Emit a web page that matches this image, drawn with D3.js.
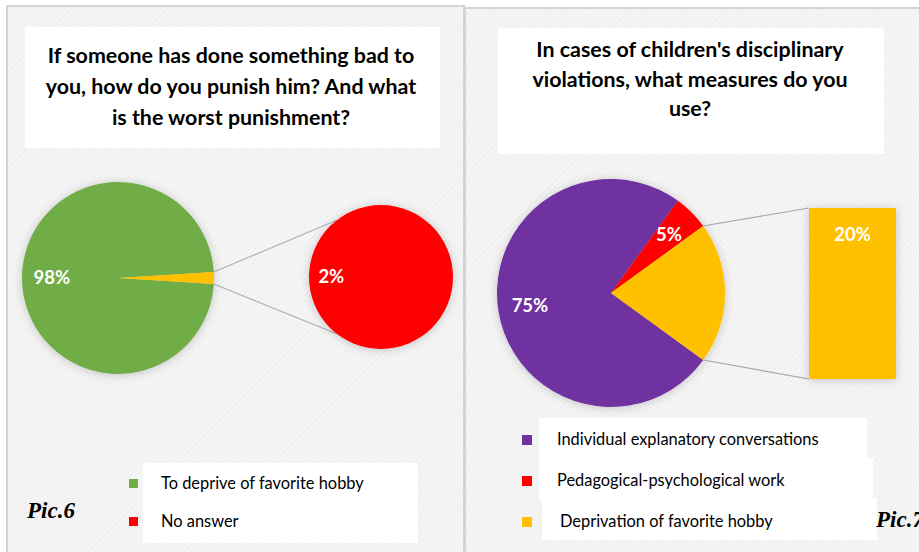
<!DOCTYPE html>
<html>
<head>
<meta charset="utf-8">
<script src="https://cdn.jsdelivr.net/npm/d3@7/dist/d3.min.js"></script>
<style>
  html, body { margin: 0; padding: 0; background: #ffffff; }
  svg { display: block; }
</style>
</head>
<body>
<svg id="chart" width="919" height="552"></svg>
<script>
// ---- Data ----
const leftTitle = ["If someone has done something bad to", "you, how do you punish him? And what", "is the worst punishment?"];
const leftCategories = ["To deprive of favorite hobby", "No answer"];
const leftValues = [98, 2];
const leftColors = ["#70ad47", "#ff0000"];
const leftSplitColor = "#ffc000";   // colour of the split-off slice inside the main pie
const leftCaption = "Pic.6";

const rightTitle = ["In cases of children's disciplinary", "violations, what measures do you", "use?"];
const rightCategories = ["Individual explanatory conversations", "Pedagogical-psychological work", "Deprivation of favorite hobby"];
const rightValues = [75, 5, 20];
const rightColors = ["#7030a0", "#ff0000", "#ffc000"];
const rightCaption = "Pic.7";

const svg = d3.select("#chart");
const FONT = "Lato, 'Open Sans', sans-serif";
const defs = svg.append("defs");

// subtle diagonal texture for the panel backgrounds
const pat = defs.append("pattern").attr("id", "hatch").attr("patternUnits", "userSpaceOnUse")
  .attr("width", 4).attr("height", 4).attr("patternTransform", "rotate(45)");
pat.append("rect").attr("width", 4).attr("height", 4).attr("fill", "#f5f5f5");
pat.append("line").attr("x1", 0).attr("y1", 0).attr("x2", 0).attr("y2", 4)
  .attr("stroke", "#ececec").attr("stroke-width", 1.5);

// soft halo round the pies
const sh = defs.append("filter").attr("id", "halo").attr("x", "-30%").attr("y", "-30%").attr("width", "160%").attr("height", "160%");
sh.append("feDropShadow").attr("dx", 0).attr("dy", 1).attr("stdDeviation", 5)
  .attr("flood-color", "#000").attr("flood-opacity", 0.2);

// ---- Panels ----
svg.append("rect").attr("x", 7).attr("y", 6).attr("width", 457).attr("height", 560)
  .attr("fill", "url(#hatch)").attr("stroke", "#d3d3d3").attr("stroke-width", 2);
svg.append("rect").attr("x", 465).attr("y", 8).attr("width", 470).attr("height", 560)
  .attr("fill", "url(#hatch)").attr("stroke", "#d3d3d3").attr("stroke-width", 2);

function titleBox(x0, y0, w, h, lines, cx, baselines, size) {
  svg.append("rect").attr("x", x0).attr("y", y0).attr("width", w).attr("height", h).attr("fill", "#ffffff");
  svg.append("g").selectAll("text").data(lines).join("text")
    .attr("x", cx).attr("y", (d, i) => baselines[i])
    .attr("text-anchor", "middle")
    .attr("font-family", FONT).attr("font-weight", 700).attr("font-size", size)
    .attr("fill", "#000").text(d => d);
}
titleBox(25, 27, 415, 121, leftTitle, 231, [63, 94, 125], 21.4);
titleBox(498, 28, 386, 126, rightTitle, 690, [57, 87, 116], 21.4);

function pctLabel(g, x, y, text) {
  g.append("text").attr("x", x).attr("y", y).attr("dy", "0.35em")
    .attr("text-anchor", "middle")
    .attr("font-family", FONT).attr("font-weight", 700).attr("font-size", 18.5)
    .attr("fill", "#ffffff").text(text);
}

const total = a => d3.sum(a);

// ---- Left chart: pie of pie ----
{
  const cx = 118, cy = 278, r = 96;
  const tot = total(leftValues);
  const last = leftValues[leftValues.length - 1];
  // split slice is centred on the right-hand side of the main pie
  const start = Math.PI / 2 + (last / tot) * Math.PI;
  const pie = d3.pie().sort(null).value(d => d).startAngle(start).endAngle(start + 2 * Math.PI);
  const arcs = pie(leftValues);
  const arc = d3.arc().innerRadius(0).outerRadius(r);
  const lab = d3.arc().innerRadius(r * 0.69).outerRadius(r * 0.69);

  const g = svg.append("g").attr("transform", `translate(${cx},${cy})`);
  g.append("g").attr("filter", "url(#halo)").selectAll("path").data(arcs).join("path")
    .attr("d", arc)
    .attr("fill", (d, i) => i === arcs.length - 1 ? leftSplitColor : leftColors[i]);
  pctLabel(g, lab.centroid(arcs[0])[0], lab.centroid(arcs[0])[1], leftValues[0] + "%");

  // secondary pie
  const sx = 381, sy = 277, sr = 72;
  const spie = d3.pie().sort(null).value(d => d).startAngle(Math.PI / 2).endAngle(Math.PI / 2 + 2 * Math.PI);
  const sarcs = spie([last]);
  const sarc = d3.arc().innerRadius(0).outerRadius(sr);
  const slab = d3.arc().innerRadius(sr * 0.69).outerRadius(sr * 0.69);

  // connector lines from the split slice to the secondary pie
  const sp = arcs[arcs.length - 1];
  const edge = a => [cx + r * Math.sin(a), cy - r * Math.cos(a)];
  const conA = 38 * Math.PI / 180;
  const sEdge = a => [sx + sr * Math.sin(a), sy - sr * Math.cos(a)];
  const lines = [[edge(sp.startAngle), sEdge(-conA)], [edge(sp.endAngle), sEdge(Math.PI + conA)]];
  svg.append("g").selectAll("line").data(lines).join("line")
    .attr("x1", d => d[0][0]).attr("y1", d => d[0][1])
    .attr("x2", d => d[1][0]).attr("y2", d => d[1][1])
    .attr("stroke", "#a9b0b8").attr("stroke-width", 1.2);

  const sg = svg.append("g").attr("transform", `translate(${sx},${sy})`);
  sg.append("g").attr("filter", "url(#halo)").selectAll("path").data(sarcs).join("path")
    .attr("d", sarc).attr("fill", leftColors[1]);
  pctLabel(sg, slab.centroid(sarcs[0])[0], slab.centroid(sarcs[0])[1], last + "%");
}

// ---- Right chart: bar of pie ----
{
  const cx = 611, cy = 293, r = 114;
  const tot = total(rightValues);
  const last = rightValues[rightValues.length - 1];
  const start = Math.PI / 2 + (last / tot) * Math.PI;
  const pie = d3.pie().sort(null).value(d => d).startAngle(start).endAngle(start + 2 * Math.PI);
  const arcs = pie(rightValues);
  const arc = d3.arc().innerRadius(0).outerRadius(r);
  const lab = d3.arc().innerRadius(r * 0.72).outerRadius(r * 0.72);

  const g = svg.append("g").attr("transform", `translate(${cx},${cy})`);
  g.append("g").attr("filter", "url(#halo)").selectAll("path").data(arcs).join("path")
    .attr("d", arc).attr("fill", (d, i) => rightColors[i]);
  arcs.slice(0, -1).forEach((a, i) => {
    const c = lab.centroid(a);
    pctLabel(g, c[0], c[1], rightValues[i] + "%");
  });

  // secondary stacked bar
  const bx0 = 809, bx1 = 896;
  const y = d3.scaleLinear().domain([0, last]).range([208, 379]);
  const sp = arcs[arcs.length - 1];
  const edge = a => [cx + r * Math.sin(a), cy - r * Math.cos(a)];
  const lines = [[edge(sp.startAngle), [bx0, y(0)]], [edge(sp.endAngle), [bx0, y(last)]]];
  svg.append("g").selectAll("line").data(lines).join("line")
    .attr("x1", d => d[0][0]).attr("y1", d => d[0][1])
    .attr("x2", d => d[1][0]).attr("y2", d => d[1][1])
    .attr("stroke", "#a6a6a6").attr("stroke-width", 1.2);

  svg.append("rect").attr("filter", "url(#halo)")
    .attr("x", bx0).attr("y", y(0)).attr("width", bx1 - bx0).attr("height", y(last) - y(0))
    .attr("fill", rightColors[2]);
  pctLabel(svg, (bx0 + bx1) / 2, y(0) + 27, last + "%");
}

// ---- Legends ----
function legend(boxes, items, colors, mx, ms, tx, baselines) {
  svg.append("g").selectAll("rect").data(boxes).join("rect")
    .attr("x", d => d[0]).attr("y", d => d[1]).attr("width", d => d[2]).attr("height", d => d[3])
    .attr("fill", "#ffffff");
  const g = svg.append("g");
  g.selectAll("rect").data(items).join("rect")
    .attr("x", mx).attr("y", (d, i) => baselines[i] - 10).attr("width", ms).attr("height", ms)
    .attr("fill", (d, i) => colors[i]);
  g.selectAll("text").data(items).join("text")
    .attr("x", (d, i) => tx[i]).attr("y", (d, i) => baselines[i])
    .attr("font-family", FONT).attr("font-size", 16.4).attr("fill", "#000")
    .text(d => d);
}
legend([[143, 463, 275, 80]], leftCategories, leftColors, 129, 9, [161, 161], [489, 527]);
legend([[539, 418, 328, 42], [539, 458, 334, 42], [542, 498, 335, 42]],
  rightCategories, rightColors, 522, 10, [557, 557, 560], [445, 486, 527]);

// ---- Figure captions (the right one runs off the page edge) ----
function caption(x, y, t) {
  svg.append("text").attr("x", x).attr("y", y)
    .attr("font-family", "'Liberation Serif', 'DejaVu Serif', serif")
    .attr("font-style", "italic").attr("font-weight", 700).attr("font-size", 23)
    .attr("fill", "#000").text(t);
}
caption(27, 518, leftCaption);
caption(876, 527, rightCaption);
</script>
</body>
</html>
